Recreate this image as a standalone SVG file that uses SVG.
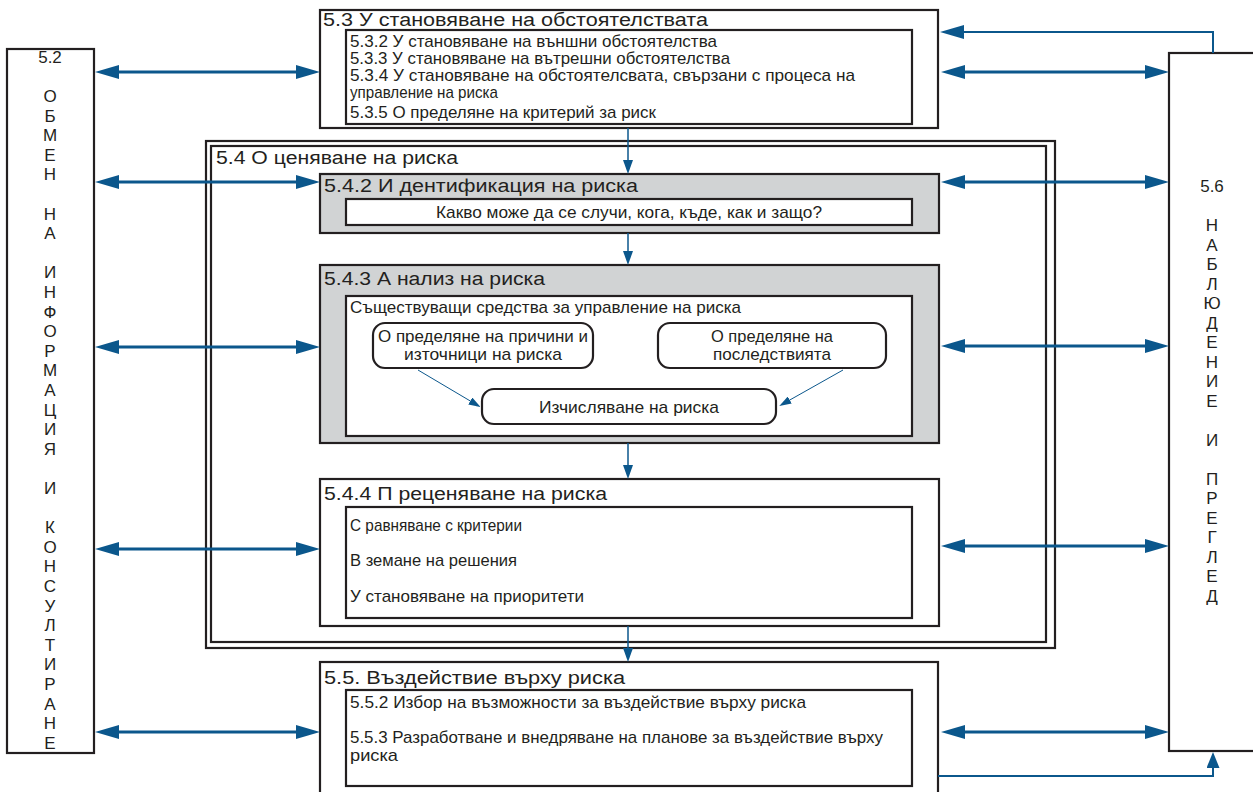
<svg xmlns="http://www.w3.org/2000/svg" width="1253" height="792" viewBox="0 0 1253 792">
<defs>
<style>
.box{fill:#fff;stroke:#231f20;stroke-width:2.2}
.gray{fill:#d1d3d4;stroke:#231f20;stroke-width:2.2}
.t{font-family:"Liberation Sans","DejaVu Sans",sans-serif;font-size:17px;fill:#231f20}
.h{font-family:"Liberation Sans","DejaVu Sans",sans-serif;font-size:18px;fill:#231f20}
.v{font-family:"Liberation Sans","DejaVu Sans",sans-serif;font-size:17px;fill:#231f20;text-anchor:middle}
.c{text-anchor:middle}
.big{fill:none;stroke:#0b578c;stroke-width:3}
.mid{fill:none;stroke:#0b578c;stroke-width:2}
.thin{fill:none;stroke:#0b578c;stroke-width:1.5}
.hair{fill:none;stroke:#0b578c;stroke-width:1}
</style>
<marker id="ab" viewBox="0 0 24 14" refX="4" refY="7" markerWidth="24" markerHeight="14" markerUnits="userSpaceOnUse" orient="auto-start-reverse"><path d="M0,0 L24,7 L0,14 Z" fill="#0b578c"/></marker>
<marker id="am" viewBox="0 0 16 13" refX="3" refY="6.5" markerWidth="16" markerHeight="13" markerUnits="userSpaceOnUse" orient="auto"><path d="M0,0 L16,6.5 L0,13 Z" fill="#0b578c"/></marker>
<marker id="at" viewBox="0 0 14 10" refX="3" refY="5" markerWidth="14" markerHeight="10" markerUnits="userSpaceOnUse" orient="auto"><path d="M0,0 L14,5 L0,10 Z" fill="#0b578c"/></marker>
<marker id="as" viewBox="0 0 12 8" refX="2" refY="4" markerWidth="12" markerHeight="8" markerUnits="userSpaceOnUse" orient="auto"><path d="M0,0 L12,4 L0,8 Z" fill="#0b578c"/></marker>
</defs>

<g id="n52">
<rect class="box" x="7" y="49" width="87" height="704"/>
<text class="v" x="50" y="63">5.2</text>
<text class="v" x="50"><tspan x="50" y="102">О</tspan><tspan x="50" y="121.6">Б</tspan><tspan x="50" y="141.2">М</tspan><tspan x="50" y="160.8">Е</tspan><tspan x="50" y="180.4">Н</tspan><tspan x="50" y="219.6">Н</tspan><tspan x="50" y="239.2">А</tspan><tspan x="50" y="278.4">И</tspan><tspan x="50" y="298">Н</tspan><tspan x="50" y="317.6">Ф</tspan><tspan x="50" y="337.2">О</tspan><tspan x="50" y="356.8">Р</tspan><tspan x="50" y="376.4">М</tspan><tspan x="50" y="396">А</tspan><tspan x="50" y="415.6">Ц</tspan><tspan x="50" y="435.2">И</tspan><tspan x="50" y="454.8">Я</tspan><tspan x="50" y="494">И</tspan><tspan x="50" y="533.2">К</tspan><tspan x="50" y="552.8">О</tspan><tspan x="50" y="572.4">Н</tspan><tspan x="50" y="592">С</tspan><tspan x="50" y="611.6">У</tspan><tspan x="50" y="631.2">Л</tspan><tspan x="50" y="650.8">Т</tspan><tspan x="50" y="670.4">И</tspan><tspan x="50" y="690">Р</tspan><tspan x="50" y="709.6">А</tspan><tspan x="50" y="729.2">Н</tspan><tspan x="50" y="748.8">Е</tspan></text>
</g>

<g id="n56">
<rect class="box" x="1169" y="53" width="95" height="698"/>
<text class="v" x="1212" y="192">5.6</text>
<text class="v" x="1212"><tspan x="1212" y="231">Н</tspan><tspan x="1212" y="250.5">А</tspan><tspan x="1212" y="270">Б</tspan><tspan x="1212" y="289.5">Л</tspan><tspan x="1212" y="309">Ю</tspan><tspan x="1212" y="328.5">Д</tspan><tspan x="1212" y="348">Е</tspan><tspan x="1212" y="367.5">Н</tspan><tspan x="1212" y="387">И</tspan><tspan x="1212" y="406.5">Е</tspan><tspan x="1212" y="445.5">И</tspan><tspan x="1212" y="484.5">П</tspan><tspan x="1212" y="504">Р</tspan><tspan x="1212" y="523.5">Е</tspan><tspan x="1212" y="543">Г</tspan><tspan x="1212" y="562.5">Л</tspan><tspan x="1212" y="582">Е</tspan><tspan x="1212" y="601.5">Д</tspan></text>
</g>

<g id="n53">
<rect class="box" x="320" y="10" width="618" height="118"/>
<text class="h" x="323" y="26" textLength="385" lengthAdjust="spacingAndGlyphs">5.3 У становяване на обстоятелствата</text>
<rect class="box" x="346" y="30" width="566" height="94"/>
<text class="t" x="350" y="47" textLength="367" lengthAdjust="spacingAndGlyphs">5.3.2 У становяване на външни обстоятелства</text>
<text class="t" x="350" y="64" textLength="380" lengthAdjust="spacingAndGlyphs">5.3.3 У становяване на вътрешни обстоятелства</text>
<text class="t" x="350" y="81" textLength="505" lengthAdjust="spacingAndGlyphs">5.3.4 У становяване на обстоятелсвата, свързани с процеса на</text>
<text class="t" x="350" y="98" textLength="148" lengthAdjust="spacingAndGlyphs">управление на риска</text>
<text class="t" x="350" y="118" textLength="306" lengthAdjust="spacingAndGlyphs">5.3.5 О пределяне на критерий за риск</text>
</g>

<g id="n54">
<rect class="box" x="206" y="141" width="849" height="507"/>
<rect class="box" x="211" y="146" width="835" height="496"/>
<text class="h" x="216" y="164" textLength="242" lengthAdjust="spacingAndGlyphs">5.4 О ценяване на риска</text>
</g>

<g id="n542">
<rect class="gray" x="320" y="174" width="619" height="59"/>
<text class="h" x="324" y="192" textLength="314" lengthAdjust="spacingAndGlyphs">5.4.2 И дентификация на риска</text>
<rect class="box" x="346" y="199" width="566" height="26"/>
<text class="t c" x="629" y="218" textLength="386" lengthAdjust="spacingAndGlyphs">Какво може да се случи, кога, къде, как и защо?</text>
</g>

<g id="n543">
<rect class="gray" x="320" y="265" width="619" height="178"/>
<text class="h" x="324" y="285" textLength="221" lengthAdjust="spacingAndGlyphs">5.4.3 А нализ на риска</text>
<rect class="box" x="346" y="296" width="566" height="140"/>
<text class="t" x="350" y="313" textLength="391" lengthAdjust="spacingAndGlyphs">Съществуващи средства за управление на риска</text>
</g>

<g id="nCauses">
<rect class="box" x="373" y="323" width="220" height="45" rx="12"/>
<text class="t c" x="483" y="342" textLength="210" lengthAdjust="spacingAndGlyphs">О пределяне на причини и</text>
<text class="t c" x="483" y="360" textLength="158" lengthAdjust="spacingAndGlyphs">източници на риска</text>
</g>

<g id="nConseq">
<rect class="box" x="658" y="323" width="228" height="45" rx="12"/>
<text class="t c" x="772" y="342" textLength="122" lengthAdjust="spacingAndGlyphs">О пределяне на</text>
<text class="t c" x="772" y="360" textLength="118" lengthAdjust="spacingAndGlyphs">последствията</text>
</g>

<g id="nCalc">
<rect class="box" x="482" y="389" width="294" height="35" rx="12"/>
<text class="t c" x="629" y="413" textLength="180" lengthAdjust="spacingAndGlyphs">Изчисляване на риска</text>
</g>

<g id="n544">
<rect class="box" x="320" y="479" width="619" height="147"/>
<text class="h" x="324" y="500" textLength="283" lengthAdjust="spacingAndGlyphs">5.4.4 П реценяване на риска</text>
<rect class="box" x="346" y="507" width="566" height="111"/>
<text class="t" x="350" y="531" textLength="172" lengthAdjust="spacingAndGlyphs">С равняване с критерии</text>
<text class="t" x="350" y="566" textLength="167" lengthAdjust="spacingAndGlyphs">В земане на решения</text>
<text class="t" x="350" y="602" textLength="234" lengthAdjust="spacingAndGlyphs">У становяване на приоритети</text>
</g>

<g id="n55">
<rect class="box" x="320" y="662" width="618" height="140"/>
<text class="h" x="324" y="684" textLength="301" lengthAdjust="spacingAndGlyphs">5.5. Въздействие върху риска</text>
<rect class="box" x="346" y="690" width="566" height="96"/>
<text class="t" x="350" y="708" textLength="456" lengthAdjust="spacingAndGlyphs">5.5.2 Избор на възможности за въздействие върху риска</text>
<text class="t" x="350" y="743" textLength="533" lengthAdjust="spacingAndGlyphs">5.5.3 Разработване и внедряване на планове за въздействие върху</text>
<text class="t" x="350" y="761" textLength="48" lengthAdjust="spacingAndGlyphs">риска</text>
</g>

<g id="connectors">
<line class="big" x1="115" y1="72" x2="300" y2="72" marker-start="url(#ab)" marker-end="url(#ab)"/>
<line class="big" x1="115" y1="182" x2="300" y2="182" marker-start="url(#ab)" marker-end="url(#ab)"/>
<line class="big" x1="115" y1="347" x2="300" y2="347" marker-start="url(#ab)" marker-end="url(#ab)"/>
<line class="big" x1="115" y1="549" x2="300" y2="549" marker-start="url(#ab)" marker-end="url(#ab)"/>
<line class="big" x1="115" y1="732" x2="300" y2="732" marker-start="url(#ab)" marker-end="url(#ab)"/>
<line class="big" x1="961" y1="72" x2="1149" y2="72" marker-start="url(#ab)" marker-end="url(#ab)"/>
<line class="big" x1="961" y1="182" x2="1149" y2="182" marker-start="url(#ab)" marker-end="url(#ab)"/>
<line class="big" x1="961" y1="346" x2="1149" y2="346" marker-start="url(#ab)" marker-end="url(#ab)"/>
<line class="big" x1="961" y1="546" x2="1149" y2="546" marker-start="url(#ab)" marker-end="url(#ab)"/>
<line class="big" x1="961" y1="732" x2="1149" y2="732" marker-start="url(#ab)" marker-end="url(#ab)"/>
<polyline class="mid" points="1213,53 1213,32 960,32" marker-end="url(#ab)"/>
<polyline class="mid" points="938,776 1213,776 1213,765" marker-end="url(#am)"/>
<line class="thin" x1="628" y1="128" x2="628" y2="163" marker-end="url(#at)"/>
<line class="thin" x1="628" y1="233" x2="628" y2="254" marker-end="url(#at)"/>
<line class="thin" x1="628" y1="443" x2="628" y2="468" marker-end="url(#at)"/>
<line class="thin" x1="628" y1="626" x2="628" y2="651" marker-end="url(#at)"/>
<line class="hair" x1="418" y1="370" x2="472" y2="402" marker-end="url(#as)"/>
<line class="hair" x1="843" y1="370" x2="788" y2="401" marker-end="url(#as)"/>
</g>
</svg>
